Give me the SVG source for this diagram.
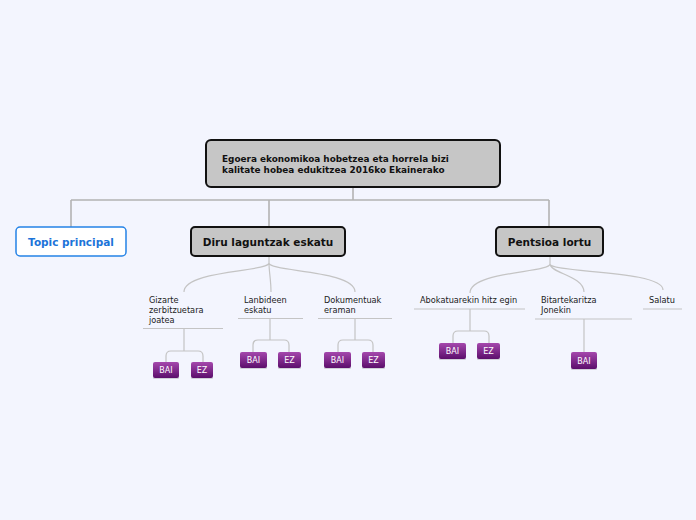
<svg xmlns="http://www.w3.org/2000/svg" width="696" height="520" viewBox="0 0 696 520">
<defs>
<linearGradient id="pg" x1="0" y1="0" x2="0" y2="1">
<stop offset="0" stop-color="#a548ad"/>
<stop offset="1" stop-color="#5c0e6c"/>
</linearGradient>
<style>
.main{fill:#c6c6c6;stroke:#111;stroke-width:2}
.mt{font-family:"DejaVu Sans",Verdana,sans-serif;font-weight:bold;fill:#111}
.st{font-family:"DejaVu Sans",Verdana,sans-serif;font-size:8.2px;fill:#222}
.ul{stroke:#c4c4c4;stroke-width:1.2;fill:none}
.c1{stroke:#b3b3b3;stroke-width:1.6;fill:none}
.c2{stroke:#c4c4c4;stroke-width:1.2;fill:none}
.bai{fill:url(#pg)}
.sh{fill:#d0d0d8}
.bt{font-family:"DejaVu Sans",Verdana,sans-serif;font-size:8px;fill:#fff;text-anchor:middle}
</style>
</defs>
<rect width="696" height="520" fill="#f3f5fe"/>
<g id="connectors">
<path class="c1" d="M353,187V200M71,200H549M71,200V227M269,200V227M549,200V227"/>
<path class="c2" d="M269,256V263C269,272 184,270 184,292M269,263C269,272 271,280 271,292M269,263C269,272 355,270 355,292"/>
<path class="c2" d="M550,256V264C550,273 470,271 470,293M550,264C550,273 584,276 584,292M550,264C550,273 663,270 663,290"/>
<path class="c2" d="M184,329V351M184,351H171Q166,351 166,356V362M184,351H198Q203,351 203,356V362"/>
<path class="c2" d="M270,319V340M270,340H258Q253,340 253,345V352M270,340H284Q289,340 289,345V352"/>
<path class="c2" d="M355,319V340M355,340H343Q338,340 338,345V352M355,340H368Q373,340 373,345V352"/>
<path class="c2" d="M470,309V331M470,331H458Q453,331 453,336V343M470,331H484Q489,331 489,336V343"/>
<path class="c2" d="M584,319V352"/>
</g>
<g id="central">
<rect class="main" x="206" y="140" width="294" height="47" rx="5"/>
<text class="mt" font-size="8.9" x="222" y="162">Egoera ekonomikoa hobetzea eta horrela bizi</text>
<text class="mt" font-size="8.9" x="222" y="173">kalitate hobea edukitzea 2016ko Ekainerako</text>
</g>
<g id="topic-principal">
<rect x="16" y="227" width="110" height="29" rx="4" fill="#fff" stroke="#2583e6" stroke-width="1.5"/>
<text class="mt" font-size="10.5" x="71" y="245.5" text-anchor="middle" style="fill:#1c74d9">Topic principal</text>
</g>
<g id="diru">
<rect class="main" x="191" y="227" width="154" height="29" rx="4"/>
<text class="mt" font-size="10.5" x="268" y="245.5" text-anchor="middle">Diru laguntzak eskatu</text>
</g>
<g id="pentsioa">
<rect class="main" x="496" y="227" width="107" height="29" rx="4"/>
<text class="mt" font-size="10.5" x="549.5" y="245.5" text-anchor="middle">Pentsioa lortu</text>
</g>
<g id="gizarte">
<text class="st" x="149" y="303">Gizarte</text>
<text class="st" x="149" y="313">zerbitzuetara</text>
<text class="st" x="149" y="323">joatea</text>
<path class="ul" d="M143,328.5H223"/>
</g>
<g id="lanbideen">
<text class="st" x="244" y="303">Lanbideen</text>
<text class="st" x="244" y="313">eskatu</text>
<path class="ul" d="M238,318.5H303"/>
</g>
<g id="dokumentuak">
<text class="st" x="324" y="303">Dokumentuak</text>
<text class="st" x="324" y="313">eraman</text>
<path class="ul" d="M318,318.5H392"/>
</g>
<g id="abokatuarekin">
<text class="st" x="420" y="303">Abokatuarekin hitz egin</text>
<path class="ul" d="M414,309H525"/>
</g>
<g id="bitartekaritza">
<text class="st" x="541" y="303">Bitartekaritza</text>
<text class="st" x="541" y="313">Jonekin</text>
<path class="ul" d="M535,319H632"/>
</g>
<g id="salatu">
<text class="st" x="649" y="303">Salatu</text>
<path class="ul" d="M643,309H682"/>
</g>
<g id="gizarte-bai"><rect class="sh" x="153" y="377" width="26" height="2" rx="1"/><rect class="bai" x="153" y="362" width="26" height="16" rx="2"/><text class="bt" x="166" y="373">BAI</text></g>
<g id="gizarte-ez"><rect class="sh" x="191" y="377" width="22" height="2" rx="1"/><rect class="bai" x="191" y="362" width="22" height="16" rx="2"/><text class="bt" x="202" y="373">EZ</text></g>
<g id="lanbideen-bai"><rect class="sh" x="240" y="367" width="27" height="2" rx="1"/><rect class="bai" x="240" y="352" width="27" height="16" rx="2"/><text class="bt" x="253.5" y="363">BAI</text></g>
<g id="lanbideen-ez"><rect class="sh" x="278" y="367" width="23" height="2" rx="1"/><rect class="bai" x="278" y="352" width="23" height="16" rx="2"/><text class="bt" x="289.5" y="363">EZ</text></g>
<g id="dokumentuak-bai"><rect class="sh" x="324" y="367" width="27" height="2" rx="1"/><rect class="bai" x="324" y="352" width="27" height="16" rx="2"/><text class="bt" x="337.5" y="363">BAI</text></g>
<g id="dokumentuak-ez"><rect class="sh" x="362" y="367" width="23" height="2" rx="1"/><rect class="bai" x="362" y="352" width="23" height="16" rx="2"/><text class="bt" x="373.5" y="363">EZ</text></g>
<g id="abokatuarekin-bai"><rect class="sh" x="439" y="358" width="27" height="2" rx="1"/><rect class="bai" x="439" y="343" width="27" height="16" rx="2"/><text class="bt" x="452.5" y="354">BAI</text></g>
<g id="abokatuarekin-ez"><rect class="sh" x="477" y="358" width="23" height="2" rx="1"/><rect class="bai" x="477" y="343" width="23" height="16" rx="2"/><text class="bt" x="488.5" y="354">EZ</text></g>
<g id="bitartekaritza-bai"><rect class="sh" x="571" y="368" width="26" height="2" rx="1"/><rect class="bai" x="571" y="352" width="26" height="17" rx="2"/><text class="bt" x="584" y="363.5">BAI</text></g>
</svg>
